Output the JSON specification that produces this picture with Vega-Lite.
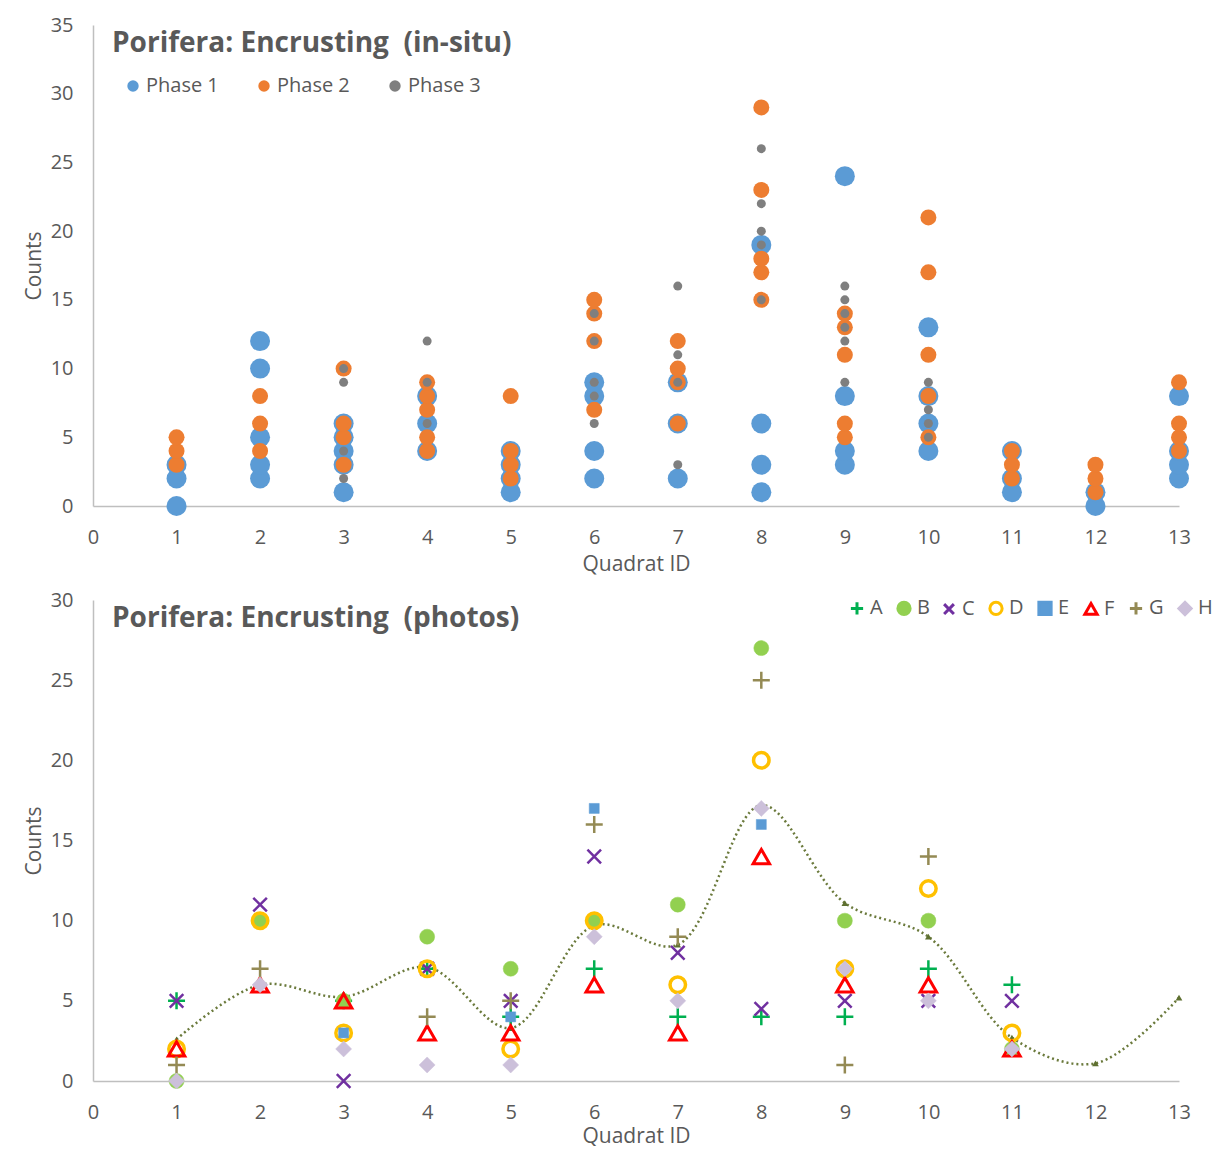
{
  "$schema": "https://vega.github.io/schema/vega-lite/v6.json",
  "background": "white",
  "padding": {"left": 23, "top": 15, "right": 0, "bottom": 0},
  "spacing": 16,
  "config": {
    "font": "Open Sans",
    "view": {"stroke": null},
    "axis": {
      "labelFont": "Open Sans", "labelFontSize": 20, "labelColor": "#595959",
      "titleFont": "Open Sans", "titleFontSize": 21, "titleColor": "#595959", "titleFontWeight": "normal",
      "domainColor": "#BFBFBF", "domainWidth": 1.5, "ticks": false, "grid": false, "labelFlush": false, "labelOverlap": false
    },
    "legend": {"labelFont": "Open Sans", "labelFontSize": 20, "labelColor": "#595959", "padding": 0, "symbolStrokeWidth": 3},
    "title": {"font": "Open Sans", "fontSize": 28, "fontWeight": "bold", "color": "#595959", "anchor": "start", "frame": "group"}
  },
  "resolve": {
    "scale": {"x": "independent", "y": "independent", "color": "independent", "size": "independent", "shape": "independent", "fill": "independent", "stroke": "independent", "strokeWidth": "independent"},
    "legend": {"color": "independent", "shape": "independent", "fill": "independent", "stroke": "independent"}
  },
  "datasets": {
    "insitu": [
      {"q": 1, "phase": "Phase 1", "count": 0}, {"q": 1, "phase": "Phase 1", "count": 2}, {"q": 1, "phase": "Phase 1", "count": 3},
      {"q": 2, "phase": "Phase 1", "count": 2}, {"q": 2, "phase": "Phase 1", "count": 3}, {"q": 2, "phase": "Phase 1", "count": 5}, {"q": 2, "phase": "Phase 1", "count": 10}, {"q": 2, "phase": "Phase 1", "count": 12},
      {"q": 3, "phase": "Phase 1", "count": 1}, {"q": 3, "phase": "Phase 1", "count": 3}, {"q": 3, "phase": "Phase 1", "count": 4}, {"q": 3, "phase": "Phase 1", "count": 5}, {"q": 3, "phase": "Phase 1", "count": 6},
      {"q": 4, "phase": "Phase 1", "count": 4}, {"q": 4, "phase": "Phase 1", "count": 6}, {"q": 4, "phase": "Phase 1", "count": 8},
      {"q": 5, "phase": "Phase 1", "count": 1}, {"q": 5, "phase": "Phase 1", "count": 2}, {"q": 5, "phase": "Phase 1", "count": 3}, {"q": 5, "phase": "Phase 1", "count": 4},
      {"q": 6, "phase": "Phase 1", "count": 2}, {"q": 6, "phase": "Phase 1", "count": 4}, {"q": 6, "phase": "Phase 1", "count": 8}, {"q": 6, "phase": "Phase 1", "count": 9},
      {"q": 7, "phase": "Phase 1", "count": 2}, {"q": 7, "phase": "Phase 1", "count": 6}, {"q": 7, "phase": "Phase 1", "count": 9},
      {"q": 8, "phase": "Phase 1", "count": 1}, {"q": 8, "phase": "Phase 1", "count": 3}, {"q": 8, "phase": "Phase 1", "count": 6}, {"q": 8, "phase": "Phase 1", "count": 19},
      {"q": 9, "phase": "Phase 1", "count": 3}, {"q": 9, "phase": "Phase 1", "count": 4}, {"q": 9, "phase": "Phase 1", "count": 8}, {"q": 9, "phase": "Phase 1", "count": 24},
      {"q": 10, "phase": "Phase 1", "count": 4}, {"q": 10, "phase": "Phase 1", "count": 6}, {"q": 10, "phase": "Phase 1", "count": 8}, {"q": 10, "phase": "Phase 1", "count": 13},
      {"q": 11, "phase": "Phase 1", "count": 1}, {"q": 11, "phase": "Phase 1", "count": 2}, {"q": 11, "phase": "Phase 1", "count": 4},
      {"q": 12, "phase": "Phase 1", "count": 0}, {"q": 12, "phase": "Phase 1", "count": 1},
      {"q": 13, "phase": "Phase 1", "count": 2}, {"q": 13, "phase": "Phase 1", "count": 3}, {"q": 13, "phase": "Phase 1", "count": 4}, {"q": 13, "phase": "Phase 1", "count": 8},
      {"q": 1, "phase": "Phase 2", "count": 3}, {"q": 1, "phase": "Phase 2", "count": 4}, {"q": 1, "phase": "Phase 2", "count": 5},
      {"q": 2, "phase": "Phase 2", "count": 4}, {"q": 2, "phase": "Phase 2", "count": 6}, {"q": 2, "phase": "Phase 2", "count": 8},
      {"q": 3, "phase": "Phase 2", "count": 3}, {"q": 3, "phase": "Phase 2", "count": 5}, {"q": 3, "phase": "Phase 2", "count": 6}, {"q": 3, "phase": "Phase 2", "count": 10},
      {"q": 4, "phase": "Phase 2", "count": 4}, {"q": 4, "phase": "Phase 2", "count": 5}, {"q": 4, "phase": "Phase 2", "count": 7}, {"q": 4, "phase": "Phase 2", "count": 8}, {"q": 4, "phase": "Phase 2", "count": 9},
      {"q": 5, "phase": "Phase 2", "count": 2}, {"q": 5, "phase": "Phase 2", "count": 3}, {"q": 5, "phase": "Phase 2", "count": 4}, {"q": 5, "phase": "Phase 2", "count": 8},
      {"q": 6, "phase": "Phase 2", "count": 7}, {"q": 6, "phase": "Phase 2", "count": 12}, {"q": 6, "phase": "Phase 2", "count": 14}, {"q": 6, "phase": "Phase 2", "count": 15},
      {"q": 7, "phase": "Phase 2", "count": 6}, {"q": 7, "phase": "Phase 2", "count": 9}, {"q": 7, "phase": "Phase 2", "count": 10}, {"q": 7, "phase": "Phase 2", "count": 12},
      {"q": 8, "phase": "Phase 2", "count": 15}, {"q": 8, "phase": "Phase 2", "count": 17}, {"q": 8, "phase": "Phase 2", "count": 18}, {"q": 8, "phase": "Phase 2", "count": 23}, {"q": 8, "phase": "Phase 2", "count": 29},
      {"q": 9, "phase": "Phase 2", "count": 5}, {"q": 9, "phase": "Phase 2", "count": 6}, {"q": 9, "phase": "Phase 2", "count": 11}, {"q": 9, "phase": "Phase 2", "count": 13}, {"q": 9, "phase": "Phase 2", "count": 14},
      {"q": 10, "phase": "Phase 2", "count": 5}, {"q": 10, "phase": "Phase 2", "count": 8}, {"q": 10, "phase": "Phase 2", "count": 11}, {"q": 10, "phase": "Phase 2", "count": 17}, {"q": 10, "phase": "Phase 2", "count": 21},
      {"q": 11, "phase": "Phase 2", "count": 2}, {"q": 11, "phase": "Phase 2", "count": 3}, {"q": 11, "phase": "Phase 2", "count": 4},
      {"q": 12, "phase": "Phase 2", "count": 1}, {"q": 12, "phase": "Phase 2", "count": 2}, {"q": 12, "phase": "Phase 2", "count": 3},
      {"q": 13, "phase": "Phase 2", "count": 4}, {"q": 13, "phase": "Phase 2", "count": 5}, {"q": 13, "phase": "Phase 2", "count": 6}, {"q": 13, "phase": "Phase 2", "count": 9},
      {"q": 3, "phase": "Phase 3", "count": 2}, {"q": 3, "phase": "Phase 3", "count": 4}, {"q": 3, "phase": "Phase 3", "count": 9}, {"q": 3, "phase": "Phase 3", "count": 10},
      {"q": 4, "phase": "Phase 3", "count": 6}, {"q": 4, "phase": "Phase 3", "count": 9}, {"q": 4, "phase": "Phase 3", "count": 12},
      {"q": 6, "phase": "Phase 3", "count": 6}, {"q": 6, "phase": "Phase 3", "count": 8}, {"q": 6, "phase": "Phase 3", "count": 9}, {"q": 6, "phase": "Phase 3", "count": 12}, {"q": 6, "phase": "Phase 3", "count": 14},
      {"q": 7, "phase": "Phase 3", "count": 3}, {"q": 7, "phase": "Phase 3", "count": 9}, {"q": 7, "phase": "Phase 3", "count": 11}, {"q": 7, "phase": "Phase 3", "count": 16},
      {"q": 8, "phase": "Phase 3", "count": 15}, {"q": 8, "phase": "Phase 3", "count": 19}, {"q": 8, "phase": "Phase 3", "count": 20}, {"q": 8, "phase": "Phase 3", "count": 22}, {"q": 8, "phase": "Phase 3", "count": 26},
      {"q": 9, "phase": "Phase 3", "count": 9}, {"q": 9, "phase": "Phase 3", "count": 12}, {"q": 9, "phase": "Phase 3", "count": 13}, {"q": 9, "phase": "Phase 3", "count": 14}, {"q": 9, "phase": "Phase 3", "count": 15}, {"q": 9, "phase": "Phase 3", "count": 16},
      {"q": 10, "phase": "Phase 3", "count": 5}, {"q": 10, "phase": "Phase 3", "count": 6}, {"q": 10, "phase": "Phase 3", "count": 7}, {"q": 10, "phase": "Phase 3", "count": 9}
    ],
    "photos": [
      {"q": 1, "series": "A", "count": 5}, {"q": 3, "series": "A", "count": 5}, {"q": 4, "series": "A", "count": 7}, {"q": 5, "series": "A", "count": 4}, {"q": 6, "series": "A", "count": 7}, {"q": 7, "series": "A", "count": 4}, {"q": 8, "series": "A", "count": 4}, {"q": 9, "series": "A", "count": 4}, {"q": 10, "series": "A", "count": 7}, {"q": 11, "series": "A", "count": 6},
      {"q": 1, "series": "B", "count": 0}, {"q": 2, "series": "B", "count": 10}, {"q": 3, "series": "B", "count": 5}, {"q": 4, "series": "B", "count": 9}, {"q": 5, "series": "B", "count": 7}, {"q": 6, "series": "B", "count": 10}, {"q": 7, "series": "B", "count": 11}, {"q": 8, "series": "B", "count": 27}, {"q": 9, "series": "B", "count": 10}, {"q": 10, "series": "B", "count": 10}, {"q": 11, "series": "B", "count": 2},
      {"q": 1, "series": "C", "count": 5}, {"q": 2, "series": "C", "count": 11}, {"q": 3, "series": "C", "count": 0}, {"q": 4, "series": "C", "count": 7}, {"q": 5, "series": "C", "count": 5}, {"q": 6, "series": "C", "count": 14}, {"q": 7, "series": "C", "count": 8}, {"q": 8, "series": "C", "count": 4.5}, {"q": 9, "series": "C", "count": 5}, {"q": 10, "series": "C", "count": 5}, {"q": 11, "series": "C", "count": 5},
      {"q": 1, "series": "D", "count": 2}, {"q": 2, "series": "D", "count": 10}, {"q": 3, "series": "D", "count": 3}, {"q": 4, "series": "D", "count": 7}, {"q": 5, "series": "D", "count": 2}, {"q": 6, "series": "D", "count": 10}, {"q": 7, "series": "D", "count": 6}, {"q": 8, "series": "D", "count": 20}, {"q": 9, "series": "D", "count": 7}, {"q": 10, "series": "D", "count": 12}, {"q": 11, "series": "D", "count": 3},
      {"q": 3, "series": "E", "count": 3}, {"q": 5, "series": "E", "count": 4}, {"q": 6, "series": "E", "count": 17}, {"q": 8, "series": "E", "count": 16},
      {"q": 1, "series": "F", "count": 2}, {"q": 2, "series": "F", "count": 6}, {"q": 3, "series": "F", "count": 5}, {"q": 4, "series": "F", "count": 3}, {"q": 5, "series": "F", "count": 3}, {"q": 6, "series": "F", "count": 6}, {"q": 7, "series": "F", "count": 3}, {"q": 8, "series": "F", "count": 14}, {"q": 9, "series": "F", "count": 6}, {"q": 10, "series": "F", "count": 6}, {"q": 11, "series": "F", "count": 2},
      {"q": 1, "series": "G", "count": 1}, {"q": 2, "series": "G", "count": 7}, {"q": 4, "series": "G", "count": 4}, {"q": 5, "series": "G", "count": 5}, {"q": 6, "series": "G", "count": 16}, {"q": 7, "series": "G", "count": 9}, {"q": 8, "series": "G", "count": 25}, {"q": 9, "series": "G", "count": 1}, {"q": 10, "series": "G", "count": 14},
      {"q": 1, "series": "H", "count": 0}, {"q": 2, "series": "H", "count": 6}, {"q": 3, "series": "H", "count": 2}, {"q": 4, "series": "H", "count": 1}, {"q": 5, "series": "H", "count": 1}, {"q": 6, "series": "H", "count": 9}, {"q": 7, "series": "H", "count": 5}, {"q": 8, "series": "H", "count": 17}, {"q": 9, "series": "H", "count": 7}, {"q": 10, "series": "H", "count": 5}, {"q": 11, "series": "H", "count": 2}
    ],
    "trend": [
      {"q": 1, "count": 2.6}, {"q": 2, "count": 6.0}, {"q": 3, "count": 5.25}, {"q": 4, "count": 7.1}, {"q": 5, "count": 3.3}, {"q": 6, "count": 9.7}, {"q": 7, "count": 8.5},
      {"q": 8, "count": 17.2}, {"q": 9, "count": 11.1}, {"q": 10, "count": 9.0}, {"q": 11, "count": 2.7}, {"q": 12, "count": 1.1}, {"q": 13, "count": 5.2}
    ]
  },
  "vconcat": [
    {
      "width": 1086,
      "height": 481,
      "title": {"text": "Porifera: Encrusting \u00a0(in-situ)", "dx": 19, "dy": 47},
      "data": {"name": "insitu"},
      "mark": {"type": "point", "filled": true, "opacity": 1, "shape": "circle"},
      "encoding": {
        "x": {"field": "q", "type": "quantitative", "scale": {"domain": [0, 13], "nice": false, "zero": false},
              "axis": {"values": [0,1,2,3,4,5,6,7,8,9,10,11,12,13], "format": "d", "title": "Quadrat ID", "labelPadding": 21, "titlePadding": 6}},
        "y": {"field": "count", "type": "quantitative", "scale": {"domain": [0, 35], "nice": false},
              "axis": {"values": [0,5,10,15,20,25,30,35], "title": "Counts", "labelPadding": 20, "titlePadding": 6}},
        "color": {"field": "phase", "type": "nominal",
                  "scale": {"domain": ["Phase 1", "Phase 2", "Phase 3"], "range": ["#5B9BD5", "#ED7D31", "#7F7F7F"]},
                  "legend": {"orient": "none", "legendX": 30, "legendY": 51, "direction": "horizontal", "columns": 3, "title": null, "symbolSize": 130, "symbolType": "circle", "columnPadding": 35, "labelOffset": 3}},
        "size": {"field": "phase", "type": "ordinal", "scale": {"type": "ordinal", "range": [400, 256, 81]}, "legend": null}
      }
    },
    {
      "width": 1086,
      "height": 481,
      "title": {"text": "Porifera: Encrusting \u00a0(photos)", "dx": 19, "dy": 47},
      "layer": [
        {
          "data": {"name": "trend"},
          "mark": {"type": "line", "interpolate": "catmull-rom", "strokeDash": [2, 3], "strokeWidth": 2.5, "color": "#6B7A3C"},
          "encoding": {
            "x": {"field": "q", "type": "quantitative", "scale": {"domain": [0, 13], "nice": false, "zero": false},
                  "axis": {"values": [0,1,2,3,4,5,6,7,8,9,10,11,12,13], "format": "d", "title": "Quadrat ID", "labelPadding": 21, "titlePadding": 3}},
            "y": {"field": "count", "type": "quantitative", "scale": {"domain": [0, 30], "nice": false},
                  "axis": {"values": [0,5,10,15,20,25,30], "format": "d", "title": "Counts", "labelPadding": 20, "titlePadding": 6}}
          }
        },
        {
          "data": {"name": "trend"},
          "mark": {"type": "point", "filled": true, "shape": "triangle-up", "size": 45, "color": "#5E7030", "opacity": 1},
          "encoding": {
            "x": {"field": "q", "type": "quantitative"},
            "y": {"field": "count", "type": "quantitative"}
          }
        },
        {
          "data": {"name": "photos"},
          "mark": {"type": "point", "opacity": 1},
          "encoding": {
            "x": {"field": "q", "type": "quantitative"},
            "y": {"field": "count", "type": "quantitative"},
            "shape": {"field": "series", "type": "nominal",
                      "scale": {"domain": ["A","B","C","D","E","F","G","H"],
                                "range": ["M-1,0L1,0M0,-1L0,1", "circle", "M-0.8,-0.8L0.8,0.8M0.8,-0.8L-0.8,0.8", "circle", "square", "triangle-up", "M-1,0L1,0M0,-1L0,1", "diamond"]},
                      "legend": {"orient": "none", "legendX": 754, "legendY": -2, "direction": "horizontal", "columns": 8, "title": null, "symbolSize": 150, "columnPadding": 8, "labelOffset": 3}},
            "fill": {"field": "series", "type": "nominal",
                     "scale": {"domain": ["A","B","C","D","E","F","G","H"],
                               "range": ["transparent", "#92D050", "transparent", "transparent", "#5B9BD5", "transparent", "transparent", "#CCC0DA"]},
                     "legend": {"orient": "none", "legendX": 754, "legendY": -2, "direction": "horizontal", "columns": 8, "title": null, "symbolSize": 150, "columnPadding": 8, "labelOffset": 3}},
            "stroke": {"field": "series", "type": "nominal",
                       "scale": {"domain": ["A","B","C","D","E","F","G","H"],
                                 "range": ["#00B050", "#92D050", "#7030A0", "#FFC000", "#5B9BD5", "#FF0000", "#948A54", "#CCC0DA"]},
                       "legend": {"orient": "none", "legendX": 754, "legendY": -2, "direction": "horizontal", "columns": 8, "title": null, "symbolSize": 150, "columnPadding": 8, "labelOffset": 3}},
            "size": {"field": "series", "type": "ordinal",
                     "scale": {"type": "ordinal", "range": [289, 225, 289, 240, 100, 270, 289, 256]}, "legend": null},
            "strokeWidth": {"field": "series", "type": "ordinal",
                            "scale": {"type": "ordinal", "range": [2.5, 0.5, 2.5, 3.5, 0.5, 3, 2.5, 0.5]}, "legend": null}
          }
        }
      ]
    }
  ]
}
